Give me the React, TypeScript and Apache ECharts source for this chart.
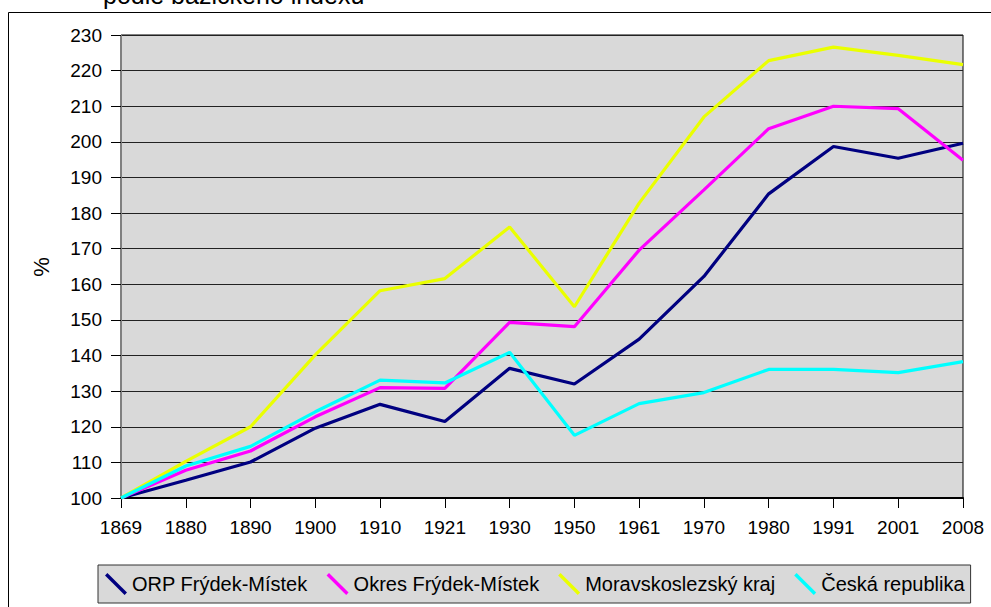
import React, { useEffect, useRef } from "react";
import * as echarts from "echarts";

const categories = ["1869", "1880", "1890", "1900", "1910", "1921", "1930", "1950", "1961", "1970", "1980", "1991", "2001", "2008"];
const orpFM = [100, 105, 110.1, 119.6, 126.3, 121.5, 136.4, 132, 144.6, 162.2, 185.4, 198.7, 195.4, 199.6];
const okresFM = [100, 107.8, 113.2, 122.8, 131, 130.8, 149.3, 148.1, 169.6, 186.5, 203.7, 210, 209.3, 194.8];
const msKraj = [100, 110.3, 120, 140.2, 158.2, 161.6, 176.1, 153.7, 182.8, 207, 222.8, 226.6, 224.3, 221.7];
const ceskaRep = [100, 109, 114.5, 124.2, 133.1, 132.3, 140.9, 117.6, 126.5, 129.6, 136.1, 136.1, 135.2, 138.3];
const seriesNames = ["ORP Frýdek-Místek", "Okres Frýdek-Místek", "Moravskoslezský kraj", "Česká republika"];
const seriesColors = ["#000080", "#ff00ff", "#eaff00", "#00ffff"];
const titleText = "podle bazického indexu";
const yAxisTitle = "%";

const FONT = "'Liberation Sans', Arial, sans-serif";

export default function App() {
  const ref = useRef<HTMLDivElement>(null);
  useEffect(() => {
    if (!ref.current) return;
    const chart = echarts.init(ref.current, null, { renderer: "svg" });
    const data = [orpFM, okresFM, msKraj, ceskaRep];
    chart.setOption({
      animation: false,
      backgroundColor: "#ffffff",
      textStyle: { fontFamily: FONT },
      grid: {
        left: 121,
        right: 28,
        top: 35,
        bottom: 109,
        show: true,
        backgroundColor: "#d9d9d9",
        borderColor: "#000",
        borderWidth: 1,
      },
      xAxis: {
        type: "category",
        data: categories,
        boundaryGap: false,
        axisLine: { show: true, lineStyle: { color: "#000", width: 2 } },
        axisTick: { show: true, length: 10, interval: 0, lineStyle: { color: "#000" } },
        axisLabel: { interval: 0, margin: 20, fontSize: 19, color: "#000", fontFamily: FONT },
        splitLine: { show: false },
      },
      yAxis: {
        type: "value",
        min: 100,
        max: 230,
        interval: 10,
        axisLine: { show: true, lineStyle: { color: "#808080", width: 1 } },
        axisTick: { show: true, length: 10, lineStyle: { color: "#000" } },
        axisLabel: { margin: 19, fontSize: 19, color: "#000", fontFamily: FONT },
        splitLine: { show: true, lineStyle: { color: "#222", width: 1 } },
      },
      legend: {
        left: 98,
        top: 565,
        orient: "horizontal",
        itemWidth: 22,
        itemHeight: 22,
        itemGap: 19,
        padding: [8, 6, 8, 7],
        backgroundColor: "#d9d9d9",
        borderColor: "#333",
        borderWidth: 1,
        icon: "path://M2.4,0 L22,19.6 L19.6,22 L0,2.4 Z",
        textStyle: { fontSize: 20, color: "#000", fontFamily: FONT },
        data: seriesNames,
      },
      graphic: [
        {
          type: "rect",
          shape: { x: 8.5, y: 12.5, width: 1000, height: 1000 },
          style: { fill: "none", stroke: "#000", lineWidth: 1 },
          silent: true,
          z: -1,
        },
        {
          type: "text",
          x: 103,
          y: 7,
          style: {
            text: titleText,
            fontSize: 25,
            fontFamily: FONT,
            fill: "#000",
            align: "left",
            verticalAlign: "bottom",
          },
        },
        {
          type: "text",
          x: 41,
          y: 267,
          rotation: Math.PI / 2,
          style: {
            text: yAxisTitle,
            fontSize: 22,
            fontFamily: FONT,
            fill: "#000",
            align: "center",
            verticalAlign: "middle",
          },
        },
      ],
      series: data.map((d, i) => ({
        name: seriesNames[i],
        type: "line",
        data: d,
        symbol: "none",
        color: seriesColors[i],
        lineStyle: { color: seriesColors[i], width: 3.2 },
        itemStyle: { color: seriesColors[i] },
      })),
    });
    return () => chart.dispose();
  }, []);
  return (
    <div
      ref={ref}
      style={{ position: "absolute", left: 0, top: 0, width: 991, height: 607 }}
    />
  );
}
